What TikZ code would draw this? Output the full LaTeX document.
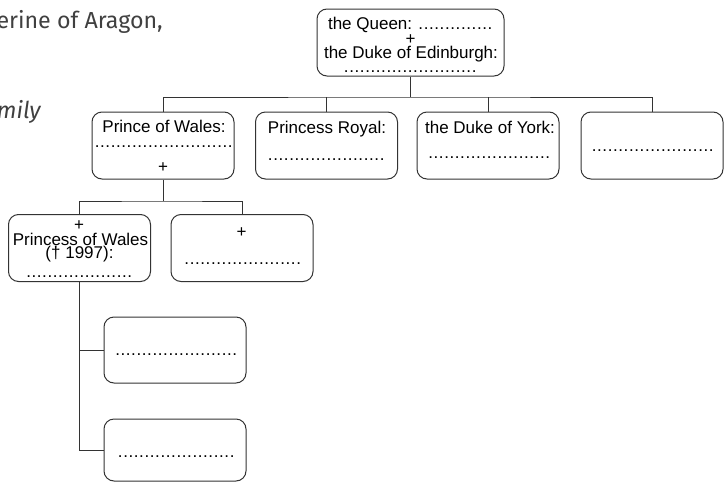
\documentclass[tikz,border=0pt]{standalone}
\usepackage{fontspec}
\setmainfont{Liberation Sans}
\newfontfamily\pagefont{Fira Sans}
\usepackage{tikz}
\usetikzlibrary{calc}
\tikzset{
  famBox/.style={draw=black!80, line width=0.75pt, rounded corners=7.5pt,
    minimum width=106.5pt, minimum height=50.25pt, inner sep=0pt},
  famTxt/.style={anchor=base, inner sep=0pt, font=\fontsize{12.75}{15}\selectfont},
  famLine/.style={draw=black!80, line width=0.7pt},
  pageTxt/.style={anchor=base east, inner sep=0pt, text=black!75}
}
% row of spaced dots to be filled in
\newcommand{\fillDots}[1]{\foreach \d in {1,...,#1}{.\kern0.45pt}\unskip}

\begin{document}
\begin{tikzpicture}[x=0.75pt,y=0.75pt,yscale=-1,xscale=1]
\useasboundingbox (0,0) rectangle (724,482);

% Text of the page beside the tree
\node [pageTxt, font=\pagefont\fontsize{17.4}{19}\selectfont] (pageLine) at (163,28.3) {herine of Aragon,};
\node [pageTxt, font=\pagefont\itshape\fontsize{17.4}{19}\selectfont] (pageWord) at (41,118) {amily};

%Shape: Boxes
\node [famBox, minimum width=140.25pt] (queen) at (410.5,42.5) {};
\node [famBox] (wales) at (163,145.5) {};
\node [famBox] (royal) at (326.5,145.5) {};
\node [famBox] (york) at (488,145.5) {};
\node [famBox] (fourth) at (652,145.5) {};
\node [famBox] (diana) at (79.5,248) {};
\node [famBox] (second) at (242,248) {};
\node [famBox, minimum height=49.5pt] (sonA) at (175,350) {};
\node [famBox, minimum height=46.5pt] (sonB) at (175,450) {};

%Straight Lines
\coordinate (topBar) at (410.5,97);
\draw [famLine] (queen.south) -- (topBar);
\draw [famLine] (wales.north) |- (topBar) -| (fourth.north);
\draw [famLine] (royal.north) -- (royal.north |- topBar);
\draw [famLine] (york.north) -- (york.north |- topBar);
\coordinate (walesBar) at (163,201);
\draw [famLine] (wales.south) -- (walesBar);
\draw [famLine] (diana.north) |- (walesBar) -| (second.north);
\draw [famLine] (diana.south) |- (sonA.west);
\draw [famLine] (diana.south) |- (sonB.west);

% Text Node
\node [famTxt] (queenName) at (410.5,29.5) {the Queen: \fillDots{14}};
\node [famTxt] (queenPlus) at (410.5,44) {+};
\node [famTxt] (dukeName) at (411,58) {the Duke of Edinburgh:};
\node [famTxt] (queenDots) at (410.5,72) {\fillDots{25}};
% Text Node
\node [famTxt] (walesName) at (164,132) {Prince of Wales:};
\node [famTxt] (walesDots) at (164,147) {\fillDots{26}};
\node [famTxt] (walesPlus) at (163,172) {+};
% Text Node
\node [famTxt] (royalName) at (327,133.3) {Princess Royal:};
\node [famTxt] (royalDots) at (326.5,160.5) {\fillDots{22}};
% Text Node
\node [famTxt] (yorkName) at (490,133.5) {the Duke of York:};
\node [famTxt] (yorkDots) at (489.5,158) {\fillDots{23}};
% Text Node
\node [famTxt] (fourthDots) at (653,151.5) {\fillDots{23}};
% Text Node
\node [famTxt] (dianaPlus) at (79,230.5) {+};
\node [famTxt] (dianaName) at (80.5,245) {Princess of Wales};
\node [famTxt] (dianaDate) at (79.5,258.5) {(\textdagger\ 1997):};
\node [famTxt] (dianaDots) at (79.5,277.5) {\fillDots{20}};
% Text Node
\node [famTxt] (secondPlus) at (241.7,237.5) {+};
\node [famTxt] (secondDots) at (243,264.5) {\fillDots{22}};
% Text Node
\node [famTxt] (sonADots) at (176.5,355) {\fillDots{23}};
\node [famTxt] (sonBDots) at (176.5,457.5) {\fillDots{22}};

\end{tikzpicture}
\end{document}
